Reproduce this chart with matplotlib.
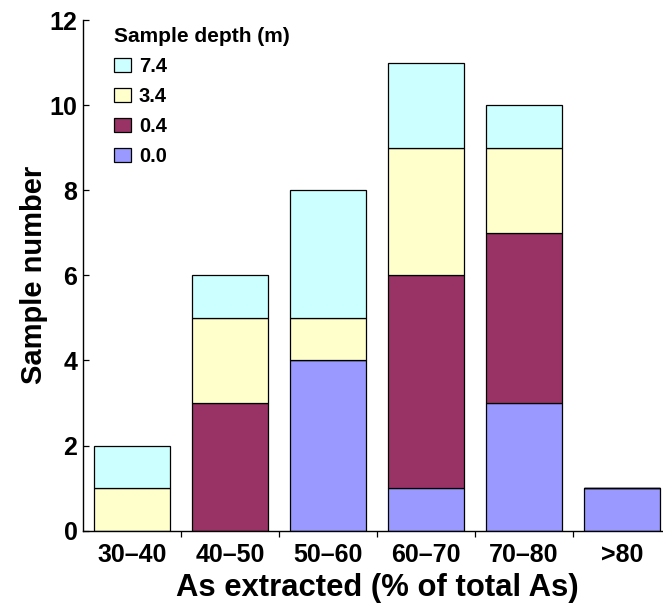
import numpy as np
import matplotlib
matplotlib.use('Agg')
import matplotlib.pyplot as plt
from matplotlib.patches import Patch

plt.rcParams['font.family'] = ['Liberation Sans', 'DejaVu Sans']
plt.rcParams['font.weight'] = 'bold'

# Data
categories = ['30\u201340', '40\u201350', '50\u201360', '60\u201370', '70\u201380', '>80']
depth_labels = ['0.0', '0.4', '3.4', '7.4']
depth_00 = [0, 0, 4, 1, 3, 1]
depth_04 = [0, 3, 0, 5, 4, 0]
depth_34 = [1, 2, 1, 3, 2, 0]
depth_74 = [1, 1, 3, 2, 1, 0]
y_ticks = [0, 2, 4, 6, 8, 10, 12]

colors = ['#9999ff', '#993366', '#ffffcc', '#ccffff']

fig = plt.figure(figsize=(6.63, 6.03), dpi=100)
ax = fig.add_axes([83 / 663, 72.3 / 603, 588 / 663, 510.7 / 603])

x = np.arange(len(categories))
bottom = np.zeros(len(categories))
series = [depth_00, depth_04, depth_34, depth_74]
for vals, col in zip(series, colors):
    ax.bar(x, vals, width=0.776, bottom=bottom, color=col,
           edgecolor='black', linewidth=0.9)
    bottom += np.array(vals)

ax.set_xlim(-0.5, 5.5)
ax.set_ylim(0, 12)
ax.set_yticks(y_ticks)
ax.set_yticklabels([str(t) for t in y_ticks], fontsize=18, fontweight='bold')
ax.tick_params(axis='y', direction='in', length=4.5, width=0.9, pad=4)

ax.set_xticks(x)
ax.set_xticklabels(categories, fontsize=18, fontweight='bold')
ax.tick_params(axis='x', which='major', length=0, pad=9)
ax.set_xticks(np.arange(0.5, 5.0, 1.0), minor=True)
ax.tick_params(axis='x', which='minor', direction='out', length=4, width=0.9)

for s in ['top', 'right']:
    ax.spines[s].set_visible(False)
for s in ['left', 'bottom']:
    ax.spines[s].set_linewidth(1.0)

ax.set_xlabel('As extracted (% of total As)', fontsize=22.3, fontweight='bold', labelpad=4)
ax.set_ylabel('Sample number', fontsize=21, fontweight='bold', labelpad=1)

handles = [Patch(facecolor=c, edgecolor='black', linewidth=0.9) for c in colors[::-1]]
leg = fig.legend(handles, depth_labels[::-1], title='Sample depth (m)',
                 loc='upper left', bbox_to_anchor=(114 / 663, 1 - 27 / 603),
                 frameon=False, fontsize=14.5, title_fontsize=15,
                 handlelength=0.84, handleheight=0.7, handletextpad=0.4,
                 labelspacing=0.55, borderpad=0, borderaxespad=0)
leg.get_title().set_fontweight('bold')
leg._legend_box.align = 'left'
for t in leg.get_texts():
    t.set_fontweight('bold')

fig.savefig('out.png', dpi=100)
